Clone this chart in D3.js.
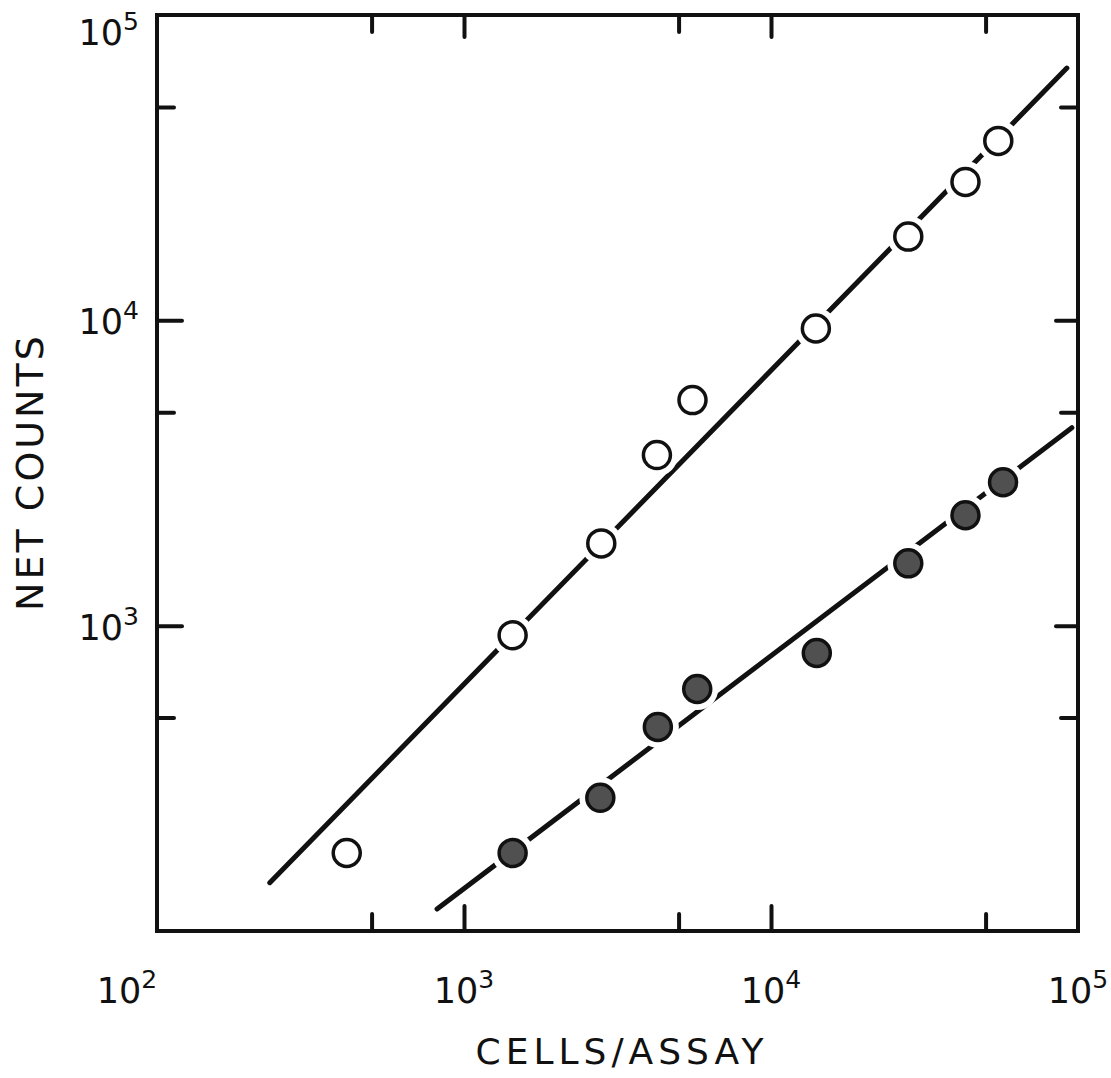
<!DOCTYPE html>
<html>
<head>
<meta charset="utf-8">
<script src="https://cdn.jsdelivr.net/npm/d3@7"></script>
<style>
body { margin: 0; background: #fff; }
svg { display: block; }
text { font-family: "DejaVu Sans", sans-serif; fill: #111; }
</style>
</head>
<body>
<div id="chart"></div>
<script>
// values (cells per assay vs net counts)
var openCells = [415, 1440, 2800, 4250, 5550, 14000, 28000, 43000, 55000]
var openCounts = [180, 930, 1860, 3620, 5480, 9400, 18800, 28400, 38700]
var filledCells = [1440, 2780, 4280, 5750, 14100, 28000, 43000, 57000]
var filledCounts = [180, 273, 466, 620, 814, 1600, 2300, 2950]
var openFit = [[233, 144], [92000, 67000]]
var filledFit = [[817, 118], [95500, 4450]]
var decades = [1e2, 1e3, 1e4, 1e5]
var exponents = ["2", "3", "4", "5"]
var majorTicks = [1e3, 1e4]
var minorTicks = [500, 5000, 50000]

var width = 1111, height = 1078
var plot = { left: 157, right: 1078, top: 15, bottom: 931 }

var svg = d3.select('#chart').append('svg')
    .attr('width', width)
    .attr('height', height)

var x = d3.scaleLog().domain([1e2, 1e5]).range([plot.left, plot.right])
var y = d3.scaleLog().domain([1e2, 1e5]).range([plot.bottom, plot.top])

// ticks on all four sides, pointing inward
function tickAxis(axis, vals, len, tr) {
    var g = svg.append('g')
        .attr('transform', tr)
        .call(axis.tickValues(vals).tickSize(-len).tickFormat(''))
    g.select('.domain').remove()
    g.selectAll('.tick line')
        .attr('stroke', '#111')
        .attr('stroke-width', 4)
        .attr('stroke-linecap', 'round')
}
tickAxis(d3.axisBottom(x), majorTicks, 25, 'translate(0,' + plot.bottom + ')')
tickAxis(d3.axisBottom(x), minorTicks, 17, 'translate(0,' + plot.bottom + ')')
tickAxis(d3.axisTop(x), majorTicks, 22, 'translate(0,' + plot.top + ')')
tickAxis(d3.axisTop(x), minorTicks, 17, 'translate(0,' + plot.top + ')')
tickAxis(d3.axisLeft(y), majorTicks, 25, 'translate(' + plot.left + ',0)')
tickAxis(d3.axisLeft(y), minorTicks, 17, 'translate(' + plot.left + ',0)')
tickAxis(d3.axisRight(y), majorTicks, 22, 'translate(' + plot.right + ',0)')
tickAxis(d3.axisRight(y), minorTicks, 17, 'translate(' + plot.right + ',0)')

svg.append('rect')
    .attr('x', plot.left)
    .attr('y', plot.top)
    .attr('width', plot.right - plot.left)
    .attr('height', plot.bottom - plot.top)
    .attr('fill', 'none')
    .attr('stroke', '#111')
    .attr('stroke-width', 4)

// fitted lines
var line = d3.line()
    .x(function(d) { return x(d[0]) })
    .y(function(d) { return y(d[1]) })

svg.selectAll('.fit')
    .data([openFit, filledFit])
    .enter().append('path')
    .attr('class', 'fit')
    .attr('d', line)
    .attr('fill', 'none')
    .attr('stroke', '#111')
    .attr('stroke-width', 5)
    .attr('stroke-linecap', 'round')

var openPts = d3.zip(openCells, openCounts)
var filledPts = d3.zip(filledCells, filledCounts)
var allPts = openPts.concat(filledPts)

// white gap where the line meets a marker
svg.selectAll('.halo')
    .data(allPts)
    .enter().append('circle')
    .attr('class', 'halo')
    .attr('cx', function(d) { return x(d[0]) })
    .attr('cy', function(d) { return y(d[1]) })
    .attr('r', 21)
    .attr('fill', '#fff')

svg.selectAll('.open')
    .data(openPts)
    .enter().append('circle')
    .attr('class', 'open')
    .attr('cx', function(d) { return x(d[0]) })
    .attr('cy', function(d) { return y(d[1]) })
    .attr('r', 13.5)
    .attr('fill', '#fff')
    .attr('stroke', '#111')
    .attr('stroke-width', 3.5)

svg.selectAll('.filled')
    .data(filledPts)
    .enter().append('circle')
    .attr('class', 'filled')
    .attr('cx', function(d) { return x(d[0]) })
    .attr('cy', function(d) { return y(d[1]) })
    .attr('r', 13.5)
    .attr('fill', '#505050')
    .attr('stroke', '#111')
    .attr('stroke-width', 3.5)

// power-of-ten labels
function powerLabel(g, exp) {
    g.append('tspan').attr('font-size', 35).text('10')
    g.append('tspan').attr('font-size', 25).attr('dy', -15).text(exp)
}

svg.selectAll('.xlab')
    .data(decades)
    .enter().append('text')
    .attr('class', 'xlab')
    .attr('x', function(d, i) { return i == 0 ? x(d) - 30 : x(d) })
    .attr('y', 1003)
    .attr('text-anchor', 'middle')
    .each(function(d, i) { powerLabel(d3.select(this), exponents[i]) })

svg.selectAll('.ylab')
    .data(decades.slice(1))
    .enter().append('text')
    .attr('class', 'ylab')
    .attr('x', plot.left - 18)
    .attr('y', function(d) { return Math.max(y(d) + 14, 45) })
    .attr('text-anchor', 'end')
    .each(function(d, i) { powerLabel(d3.select(this), exponents[i + 1]) })

svg.append('text')
    .attr('x', 622)
    .attr('y', 1064)
    .attr('text-anchor', 'middle')
    .attr('font-size', 36)
    .attr('letter-spacing', 5)
    .text('CELLS/ASSAY')

svg.append('text')
    .attr('transform', 'translate(43,472) rotate(-90)')
    .attr('text-anchor', 'middle')
    .attr('font-size', 38)
    .attr('letter-spacing', 3)
    .text('NET COUNTS')
</script>
</body>
</html>
